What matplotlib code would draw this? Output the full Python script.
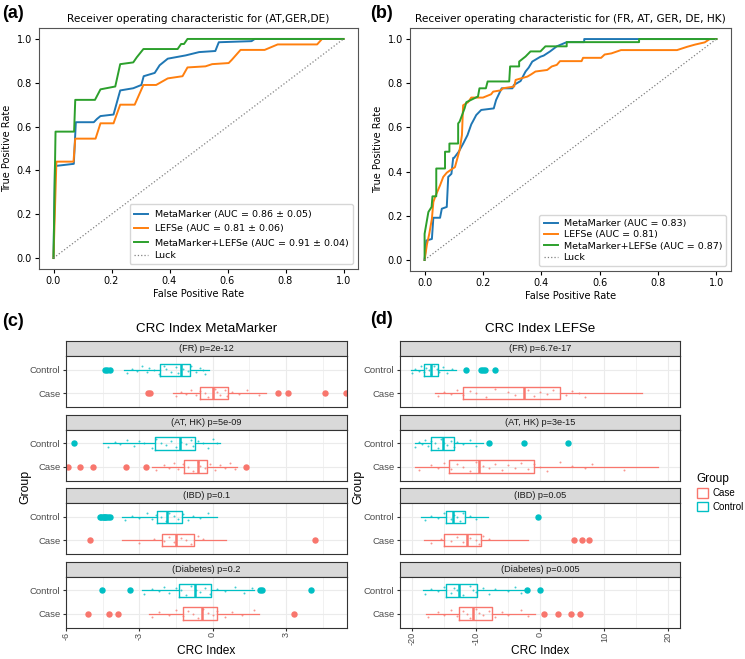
import numpy as np
import matplotlib.pyplot as plt
from matplotlib.patches import Patch

# ---- ROC data (a) ----
a_meta_fpr = [0, 0.005, 0.07, 0.077, 0.139, 0.15, 0.162, 0.207, 0.23, 0.275, 0.303, 0.311, 0.349, 0.366,
              0.394, 0.456, 0.502, 0.558, 0.57, 0.683, 0.694, 1.0]
a_meta_tpr = [0, 0.42, 0.43, 0.62, 0.62, 0.635, 0.648, 0.655, 0.765, 0.775, 0.79, 0.83, 0.845, 0.88,
              0.91, 0.925, 0.94, 0.945, 0.985, 0.99, 1.0, 1.0]
a_lefse_fpr = [0, 0.01, 0.069, 0.075, 0.145, 0.162, 0.207, 0.23, 0.28, 0.29, 0.31, 0.354, 0.394, 0.445,
               0.462, 0.524, 0.547, 0.604, 0.615, 0.645, 0.728, 0.773, 0.909, 0.926, 1.0]
a_lefse_tpr = [0, 0.44, 0.44, 0.545, 0.545, 0.615, 0.615, 0.70, 0.70, 0.73, 0.79, 0.79, 0.82, 0.83,
               0.87, 0.875, 0.885, 0.89, 0.905, 0.95, 0.95, 0.975, 0.975, 1.0, 1.0]
a_both_fpr = [0, 0.007, 0.071, 0.075, 0.143, 0.162, 0.213, 0.23, 0.275, 0.287, 0.31, 0.428, 0.44, 0.45,
              0.462, 1.0]
a_both_tpr = [0, 0.577, 0.577, 0.722, 0.722, 0.77, 0.783, 0.885, 0.893, 0.916, 0.954, 0.954, 0.977, 0.977,
              1.0, 1.0]

# ---- ROC data (b) ----
b_meta_fpr = [0, 0.006, 0.025, 0.03, 0.053, 0.059, 0.076, 0.081, 0.092, 0.098, 0.101, 0.117, 0.132, 0.147,
              0.16, 0.165, 0.177, 0.194, 0.237, 0.245, 0.264, 0.301, 0.306, 0.329, 0.34, 0.346, 0.357,
              0.369, 0.397, 0.408, 0.43, 0.453, 0.487, 0.547, 0.547, 1.0]
b_meta_tpr = [0, 0.088, 0.095, 0.191, 0.191, 0.232, 0.24, 0.376, 0.39, 0.462, 0.462, 0.49, 0.526, 0.565,
              0.614, 0.626, 0.656, 0.679, 0.686, 0.724, 0.777, 0.777, 0.792, 0.81, 0.838, 0.853, 0.871,
              0.898, 0.92, 0.925, 0.944, 0.967, 0.986, 0.986, 1.0, 1.0]
b_lefse_fpr = [0, 0.008, 0.016, 0.025, 0.03, 0.036, 0.053, 0.064, 0.076, 0.092, 0.104, 0.12, 0.128, 0.132,
               0.149, 0.16, 0.2, 0.228, 0.235, 0.262, 0.268, 0.307, 0.312, 0.352, 0.365, 0.38, 0.42,
               0.436, 0.453, 0.464, 0.538, 0.543, 0.605, 0.617, 0.64, 0.673, 0.865, 0.9, 0.927, 0.96,
               0.977, 1.0]
b_lefse_tpr = [0, 0.07, 0.118, 0.186, 0.262, 0.285, 0.338, 0.376, 0.395, 0.41, 0.42, 0.497, 0.565, 0.70,
               0.714, 0.735, 0.735, 0.75, 0.762, 0.768, 0.777, 0.785, 0.815, 0.83, 0.84, 0.853, 0.86,
               0.876, 0.883, 0.9, 0.9, 0.915, 0.915, 0.93, 0.935, 0.95, 0.95, 0.965, 0.975, 0.985,
               1.0, 1.0]
b_both_fpr = [0, 0.0, 0.013, 0.024, 0.027, 0.04, 0.04, 0.07, 0.07, 0.085, 0.085, 0.115, 0.115, 0.12,
              0.137, 0.143, 0.183, 0.188, 0.21, 0.216, 0.29, 0.293, 0.324, 0.324, 0.346, 0.363, 0.397,
              0.414, 0.487, 0.487, 0.735, 0.735, 1.0]
b_both_tpr = [0, 0.118, 0.217, 0.24, 0.288, 0.288, 0.414, 0.414, 0.49, 0.49, 0.527, 0.527, 0.618, 0.626,
              0.686, 0.714, 0.74, 0.777, 0.777, 0.808, 0.808, 0.876, 0.876, 0.898, 0.921, 0.944, 0.944,
              0.967, 0.967, 0.986, 0.986, 1.0, 1.0]

a_labels = ['MetaMarker (AUC = 0.86 $\\pm$ 0.05)', 'LEFSe (AUC = 0.81 $\\pm$ 0.06)',
            'MetaMarker+LEFSe (AUC = 0.91 $\\pm$ 0.04)']
b_labels = ['MetaMarker (AUC = 0.83)', 'LEFSe (AUC = 0.81)', 'MetaMarker+LEFSe (AUC = 0.87)']

# ---- CRC index boxplots: [whislo, q1, median, q3, whishi] ----
facets_c = ['(FR) p=2e-12', '(AT, HK) p=5e-09', '(IBD) p=0.1', '(Diabetes) p=0.2']
c_case_box = [[-1.62, -0.50, 0.01, 0.61, 2.20], [-2.48, -1.19, -0.61, -0.23, 1.00],
              [-3.70, -2.07, -1.50, -0.75, 0.56], [-2.62, -1.21, -0.44, 0.20, 1.88]]
c_ctrl_box = [[-3.62, -2.14, -1.30, -0.91, -0.16], [-4.49, -2.35, -1.32, -0.74, 0.31],
              [-3.70, -2.28, -1.87, -1.26, 0.18], [-2.89, -1.36, -0.74, -0.07, 1.68]]
c_case_out = [[-2.66, -2.55, 2.66, 3.07, 4.61, 5.46], [-5.93, -5.42, -4.90, -3.53, -2.73, 1.36],
              [-5.0, 4.20], [-5.12, -4.22, -3.89, 3.32]]
c_ctrl_out = [[-4.42, -4.32, -4.19], [-5.69],
              [-4.62, -4.55, -4.50, -4.45, -4.40, -4.35, -4.28, -4.20], [-4.53, -3.37, 1.95, 2.02, 4.02]]
c_case_pts = [[-1.5, -1.3, -1.1, -0.9, -0.7, -0.5, -0.3, -0.2, 0.1, 0.2, 0.3, 0.5, 0.6, 0.8, 1.1, 1.4, 1.9],
              [-2.3, -2.0, -1.8, -1.6, -1.4, -1.2, -1.0, -0.8, -0.6, -0.5, -0.3, -0.1, 0.1, 0.3, 0.5, 0.7, 0.9],
              [-3.0, -2.4, -2.0, -1.8, -1.6, -1.3, -1.1, -0.9, -0.6, -0.4],
              [-2.5, -2.2, -1.8, -1.5, -1.2, -1.0, -0.8, -0.6, -0.4, -0.2, 0.0, 0.2, 0.5, 0.8, 1.2, 1.7]]
c_ctrl_pts = [[-3.5, -3.3, -3.1, -2.9, -2.7, -2.6, -2.4, -2.2, -2.0, -1.9, -1.7, -1.5, -1.4, -1.2, -1.0,
               -0.9, -0.7, -0.5, -0.4, -0.3],
              [-4.3, -4.0, -3.8, -3.5, -3.2, -3.0, -2.8, -2.5, -2.3, -2.1, -1.9, -1.7, -1.5, -1.3, -1.1,
               -0.9, -0.8, -0.6, -0.4, -0.2, 0.0, 0.2],
              [-3.6, -3.3, -3.0, -2.7, -2.5, -2.3, -2.1, -1.9, -1.8, -1.6, -1.4, -1.2, -1.0, -0.8, -0.5, -0.2],
              [-2.8, -2.5, -2.2, -2.0, -1.8, -1.5, -1.3, -1.1, -0.9, -0.7, -0.5, -0.3, -0.1, 0.2, 0.5, 0.9,
               1.3, 1.6]]

facets_d = ['(FR) p=6.7e-17', '(AT, HK) p=3e-15', '(IBD) p=0.05', '(Diabetes) p=0.005']
d_case_box = [[-16.4, -12.1, -2.6, 3.06, 15.9], [-19.6, -14.2, -9.5, -1.0, 18.4],
              [-18.2, -15.1, -11.5, -9.2, -2.0], [-17.9, -12.7, -10.5, -7.6, -0.9]]
d_ctrl_box = [[-20.2, -18.2, -17.0, -15.9, -13.2], [-19.6, -17.0, -15.2, -13.5, -9.0],
              [-18.6, -14.7, -13.6, -11.8, -8.2], [-18.3, -14.7, -12.7, -9.9, -2.2]]
d_case_out = [[], [], [5.2, 6.5, 7.6], [0.6, 2.7, 4.8, 6.2]]
d_ctrl_out = [[-11.6, -9.2, -9.0, -8.7, -7.0], [-8.0, -2.5, 4.3], [-0.3], [-2.1, -0.05]]
d_case_pts = [[-16, -15, -14, -13, -12, -11, -10, -8.5, -7, -5, -4, -2, -1, 0, 1, 2, 4, 5, 6, 7],
              [-19, -17, -16, -15, -14, -13, -12, -11, -10, -9, -8, -7, -6, -5, -4, -3, -2, -1, 0, 1, 3,
               5, 7, 8, 13],
              [-17, -15.5, -14, -13, -12, -11, -10, -9.5, -9, -8],
              [-17.5, -16, -15, -14, -13, -12, -11.5, -11, -10, -9.5, -9, -8, -7, -6, -5, -3, -2]]
d_ctrl_pts = [[-20, -19.5, -19, -18.6, -18.2, -17.8, -17.4, -17, -16.6, -16.2, -15.8, -15.2, -14.5, -13.8],
              [-19.5, -19, -18.5, -18, -17.5, -17, -16.5, -16, -15.5, -15, -14.5, -14, -13.5, -13, -12,
               -11, -10],
              [-18, -17, -16, -15, -14, -13.5, -13, -12.5, -12, -11, -10],
              [-18, -17, -16, -15, -14, -13.5, -13, -12, -11, -10.5, -10, -9, -8, -7, -5, -4, -3]]

CASE = '#F8766D'
CTRL = '#00BFC4'
GG = 'Liberation Sans'
W, H = 745, 659

fig = plt.figure(figsize=(W / 100, H / 100), dpi=100)


def px_axes(l, t, r, b):
    return fig.add_axes([l / W, 1 - b / H, (r - l) / W, (b - t) / H])


def roc_panel(rect, title, curves, labels):
    ax = px_axes(*rect)
    cols = ['#1f77b4', '#ff7f0e', '#2ca02c']
    for (fx, ty), lab, c in zip(curves, labels, cols):
        ax.plot(fx, ty, color=c, lw=1.4, label=lab)
    ax.plot([0, 1], [0, 1], ls=':', color='gray', lw=0.9, label='Luck')
    ax.set_title(title, fontsize=7.6, pad=4)
    ax.set_xlabel('False Positive Rate', fontsize=7, labelpad=2)
    ax.set_ylabel('True Positive Rate', fontsize=7, labelpad=3)
    ax.tick_params(labelsize=7, length=3, pad=2)
    ax.set_xticks([0, 0.2, 0.4, 0.6, 0.8, 1.0])
    ax.set_yticks([0, 0.2, 0.4, 0.6, 0.8, 1.0])
    ax.legend(loc='lower right', fontsize=6.8, handlelength=1.5, borderpad=0.45, labelspacing=0.25,
              handletextpad=0.6)
    for s in ax.spines.values():
        s.set_color('#555555')
        s.set_linewidth(0.8)


roc_panel((39, 28, 358, 269), 'Receiver operating characteristic for (AT,GER,DE)',
          [(a_meta_fpr, a_meta_tpr), (a_lefse_fpr, a_lefse_tpr), (a_both_fpr, a_both_tpr)], a_labels)
roc_panel((410, 28, 731, 271), 'Receiver operating characteristic for (FR, AT, GER, DE, HK)',
          [(b_meta_fpr, b_meta_tpr), (b_lefse_fpr, b_lefse_tpr), (b_both_fpr, b_both_tpr)], b_labels)

jit = [-0.14, 0.06, -0.04, 0.15, -0.1, 0.1, 0.0, -0.18, 0.18, 0.03, -0.07, 0.12]


def box_stats(v, out):
    return dict(whislo=v[0], q1=v[1], med=v[2], q3=v[3], whishi=v[4], fliers=np.array(out, float))


def crc_panel(l, r, title, facets, case_box, ctrl_box, case_out, ctrl_out, case_pts, ctrl_pts,
              xlim, major, minor, ticklabels):
    tops = [341, 414.5, 488, 561.5]
    for i, name in enumerate(facets):
        t = tops[i]
        st = px_axes(l, t, r, t + 15)
        st.set_facecolor('#D9D9D9')
        st.set_xticks([])
        st.set_yticks([])
        for s in st.spines.values():
            s.set_color('#333333')
            s.set_linewidth(0.8)
        st.text(0.5, 0.5, name, ha='center', va='center', fontsize=6.6, color='#1A1A1A',
                family=GG, transform=st.transAxes)

        ax = px_axes(l, t + 15, r, t + 66)
        for pos, bx, out, pts, col in [(1, case_box[i], case_out[i], case_pts[i], CASE),
                                        (2, ctrl_box[i], ctrl_out[i], ctrl_pts[i], CTRL)]:
            ax.bxp([box_stats(bx, out)], positions=[pos], widths=0.55, orientation='horizontal',
                   showcaps=False, patch_artist=False, manage_ticks=False,
                   boxprops=dict(color=col, lw=1.0),
                   whiskerprops=dict(color=col, lw=0.9),
                   medianprops=dict(color=col, lw=1.8),
                   flierprops=dict(marker='o', markersize=3.6, markerfacecolor=col,
                                   markeredgecolor=col, linestyle='none'))
            yj = [pos + jit[k % len(jit)] for k in range(len(pts))]
            ax.scatter(pts, yj, s=2, color=col, alpha=0.75, lw=0, zorder=3)

        ax.set_xlim(*xlim)
        ax.set_ylim(0.4, 2.6)
        ax.set_xticks(major)
        ax.set_xticks(minor, minor=True)
        ax.set_yticks([1, 2])
        ax.grid(which='major', color='#EBEBEB', lw=0.8)
        ax.grid(which='minor', axis='x', color='#EBEBEB', lw=0.5)
        ax.set_axisbelow(True)
        for s in ax.spines.values():
            s.set_color('#333333')
            s.set_linewidth(0.8)
        ax.set_yticklabels(['Case', 'Control'], fontsize=6.8, color='#4D4D4D', family=GG)
        ax.tick_params(axis='y', length=2.5, pad=1.5, color='#333333')
        ax.tick_params(axis='x', which='minor', length=0)
        if i < 3:
            ax.tick_params(axis='x', length=0, labelbottom=False)
        else:
            ax.set_xticklabels(ticklabels, rotation=90, fontsize=6.6, color='#4D4D4D', family=GG)
            ax.tick_params(axis='x', length=2, pad=1, color='#333333')

    fig.text((l + r) / 2 / W, 1 - 329 / H, title, ha='center', va='center', fontsize=9.6, family=GG)
    fig.text((l + r) / 2 / W, 1 - 651 / H, 'CRC Index', ha='center', va='center', fontsize=8.6, family=GG)


crc_panel(66, 347, 'CRC Index MetaMarker', facets_c, c_case_box, c_ctrl_box, c_case_out, c_ctrl_out,
          c_case_pts, c_ctrl_pts, (-5.98, 5.5), [-6, -3, 0, 3], [-4.5, -1.5, 1.5, 4.5],
          ['-6', '-3', '0', '3'])
crc_panel(400, 680, 'CRC Index LEFSe', facets_d, d_case_box, d_ctrl_box, d_case_out, d_ctrl_out,
          d_case_pts, d_ctrl_pts, (-21.9, 21.8), [-20, -10, 0, 10, 20], [-15, -5, 5, 15],
          ['-20', '-10', '0', '10', '20'])

fig.text(25 / W, 1 - 487 / H, 'Group', rotation=90, ha='center', va='center', fontsize=8.8, family=GG)
fig.text(358 / W, 1 - 487 / H, 'Group', rotation=90, ha='center', va='center', fontsize=8.8, family=GG)

handles = [Patch(facecolor='white', edgecolor=CASE, lw=1.0, label='Case'),
           Patch(facecolor='white', edgecolor=CTRL, lw=1.0, label='Control')]
leg = fig.legend(handles=handles, loc='upper left', bbox_to_anchor=(688 / W, 1 - 464 / H), frameon=False,
                 title='Group', prop=dict(family=GG, size=7), handlelength=1.2, handleheight=1.1,
                 labelspacing=0.35, handletextpad=0.4, alignment='left')
leg.get_title().set_fontfamily(GG)
leg.get_title().set_fontsize(8.5)

for x, y, s in [(2, 13, '(a)'), (370, 13, '(b)'), (2, 322, '(c)'), (370, 319, '(d)')]:
    fig.text(x / W, 1 - y / H, s, fontsize=13, fontweight='bold', family=GG, va='center', ha='left')

fig.savefig('out.png', dpi=100)
